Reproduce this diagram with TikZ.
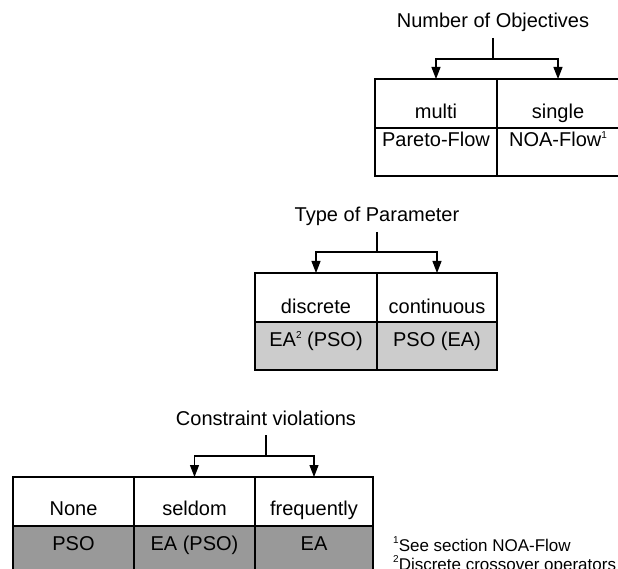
\documentclass[tikz,border=0pt]{standalone}
\usepackage{fontspec}
\setmainfont{Liberation Sans}
\usetikzlibrary{arrows.meta}

\definecolor{lightcell}{HTML}{CCCCCC}
\definecolor{darkcell}{HTML}{999999}
\newcommand{\sups}[1]{\raisebox{8pt}{\fontsize{10}{10}\selectfont #1}}

\begin{document}
\begin{tikzpicture}[
  x=1pt,
  y=-1pt,
  line join=miter,
  cell/.style={draw, line width=1.1pt, anchor=north west, inner sep=0pt, outer sep=0pt},
  celltext/.style={font=\fontsize{20}{24}\selectfont, inner sep=0pt, anchor=base},
  heading/.style={font=\fontsize{20}{24}\selectfont, inner sep=0pt, anchor=base},
  footnote/.style={font=\fontsize{17}{20}\selectfont, inner sep=0pt, anchor=base west},
  wire/.style={line width=1.1pt},
  branch/.style={line width=1.1pt, -{Triangle[length=12pt,width=9pt]}}
]

\useasboundingbox (0,0) rectangle (618,569);

% ---------- cells ----------
\foreach \n/\x/\y/\w/\h/\c in {
  mu/375/79/122/49/white,
  si/497/79/122/49/white,
  pf/375/128/122/48/white,
  nf/497/128/122/48/white,
  di/255/273/122/49/white,
  co/377/273/120/49/white,
  ep/255/322/122/48/lightcell,
  pe/377/322/120/48/lightcell,
  no/13/477/121/49/white,
  se/134/477/121/49/white,
  fr/255/477/118/49/white,
  ps/13/526/121/48/darkcell,
  ea/134/526/121/48/darkcell,
  eo/255/526/118/48/darkcell}{
  \node[cell, fill=\c, minimum width=\w pt, minimum height=\h pt] (\n) at (\x,\y) {};
}

% ---------- cell texts ----------
\foreach \n/\t/\dy in {
  mu/multi/40,
  si/single/40,
  pf/Pareto-Flow/19,
  nf/{NOA-Flow\sups{1}}/19,
  di/discrete/40,
  co/continuous/40,
  ep/{EA\sups{2} (PSO)}/24,
  pe/PSO (EA)/24,
  no/None/38,
  se/seldom/38,
  fr/frequently/38,
  ps/PSO/24,
  ea/EA (PSO)/24,
  eo/EA/24}{
  \node[celltext] (\n t) at ([yshift=-\dy pt]\n.north) {\t};
}

% ---------- headings ----------
\node[heading] (obj) at (493,28) {Number of Objectives};
\node[heading] (par) at (377,222) {Type of Parameter};
\node[heading] (con) at (266,425) {Constraint violations};

\coordinate (objfork) at ([yshift=-31pt]obj.base);
\coordinate (parfork) at ([yshift=-30pt]par.base);
\coordinate (confork) at ([yshift=-31pt]con.base);

% ---------- forks ----------
\draw[wire] ([yshift=-10pt]obj.base) -- (objfork);
\draw[branch] (objfork) -| (mu.north);
\draw[branch] (objfork) -| (si.north);

\draw[wire] ([yshift=-10pt]par.base) -- (parfork);
\draw[branch] (parfork) -| (di.north);
\draw[branch] (parfork) -| (co.north);

\draw[wire] ([yshift=-10pt]con.base) -- (confork);
\draw[branch] (confork) -| (se.north);
\draw[branch] (confork) -| (fr.north);

% ---------- footnotes ----------
\node[footnote] (fn1) at (393,551) {\sups{1}See section NOA-Flow};
\node[footnote] (fn2) at (393,570) {\sups{2}Discrete crossover operators};

\end{tikzpicture}
\end{document}
